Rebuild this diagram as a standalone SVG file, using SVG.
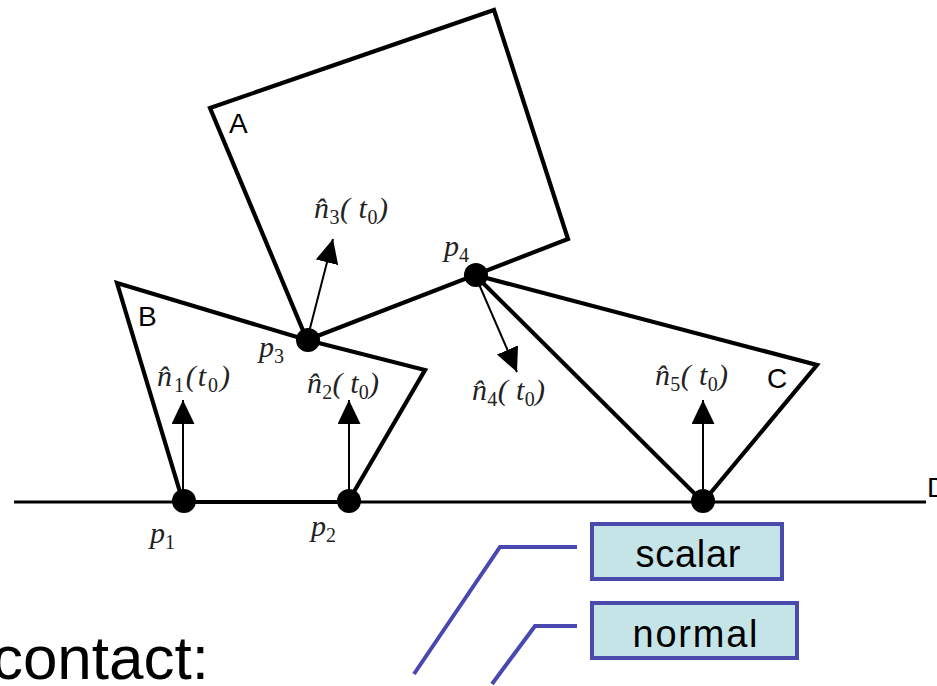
<svg xmlns="http://www.w3.org/2000/svg" width="937" height="686" viewBox="0 0 937 686">
<style>
.body{fill:none;stroke:#000;stroke-width:4.2;stroke-linejoin:miter}
.ground{stroke:#000;stroke-width:3.2}
.dot{fill:#000}
.nrm{stroke:#000;stroke-width:2;marker-end:url(#ah)}
.lbl{font-family:"Liberation Sans",Arial,sans-serif;font-size:28px;fill:#000}
.math{font-family:"Liberation Serif","Times New Roman",serif;font-size:30px;font-style:italic;fill:#222}
.sub{font-size:20px;font-style:normal}
.box{fill:#c5e4e8;stroke:#4a4aac;stroke-width:4}
.btxt{font-family:"Liberation Sans",Arial,sans-serif;font-size:38px;fill:#000;text-anchor:middle}
.call{fill:none;stroke:#4848b0;stroke-width:4}
.big{font-family:"Liberation Sans",Arial,sans-serif;font-size:62px;fill:#000}
</style>
<defs>
<marker id="ah" markerUnits="userSpaceOnUse" markerWidth="25" markerHeight="24" refX="24" refY="11.5" orient="auto" viewBox="0 0 25 24">
<path d="M0,0 L24,11.5 L0,23 Z" fill="#000"/>
</marker>
</defs>
<rect width="937" height="686" fill="#fff"/>
<g id="ground-D">
<line class="ground" x1="14" y1="502" x2="926" y2="502"/>
<text class="lbl" x="927" y="497">D</text>
</g>
<g id="body-A">
<polygon class="body" points="210,108 494,10 568,239 307,340"/>
<text class="lbl" x="229" y="133">A</text>
</g>
<g id="body-B">
<polygon class="body" points="117,283 307,340 425,370 348,502 183,502"/>
<text class="lbl" x="138" y="326">B</text>
</g>
<g id="body-C">
<polygon class="body" points="475,275 817,365 703,502"/>
<text class="lbl" x="767" y="388">C</text>
</g>
<g id="connectors">
<line class="nrm" x1="183" y1="500" x2="183" y2="400"/>
<line class="nrm" x1="349" y1="500" x2="349" y2="400"/>
<line class="nrm" x1="307" y1="340" x2="333" y2="239"/>
<line class="nrm" x1="475" y1="275" x2="517" y2="372"/>
<line class="nrm" x1="703" y1="500" x2="703" y2="400"/>
<polyline class="call" points="414,674 500,547 577,547"/>
<polyline class="call" points="492,684 535,626 577,626"/>
</g>
<g id="p1">
<circle class="dot" cx="184" cy="501" r="12"/>
<text class="math" x="150" y="543">p<tspan class="sub" dy="6">1</tspan></text>
</g>
<g id="p2">
<circle class="dot" cx="349" cy="501" r="12"/>
<text class="math" x="311" y="536">p<tspan class="sub" dy="6">2</tspan></text>
</g>
<g id="p3">
<circle class="dot" cx="308" cy="340" r="12"/>
<text class="math" x="259" y="357">p<tspan class="sub" dy="6">3</tspan></text>
</g>
<g id="p4">
<circle class="dot" cx="476" cy="275" r="12"/>
<text class="math" x="444" y="256">p<tspan class="sub" dy="6">4</tspan></text>
</g>
<g id="p5">
<circle class="dot" cx="703" cy="501" r="12"/>
</g>
<g id="n1">
<text class="math" x="157" y="386" textLength="73" lengthAdjust="spacing">n̂<tspan class="sub" dy="6">1</tspan><tspan dy="-6">(t</tspan><tspan class="sub" dy="6">0</tspan><tspan dy="-6">)</tspan></text>
</g>
<g id="n2">
<text class="math" x="307" y="393" textLength="72" lengthAdjust="spacing">n̂<tspan class="sub" dy="6">2</tspan><tspan dy="-6">( t</tspan><tspan class="sub" dy="6">0</tspan><tspan dy="-6">)</tspan></text>
</g>
<g id="n3">
<text class="math" x="314" y="218" textLength="74" lengthAdjust="spacing">n̂<tspan class="sub" dy="6">3</tspan><tspan dy="-6">( t</tspan><tspan class="sub" dy="6">0</tspan><tspan dy="-6">)</tspan></text>
</g>
<g id="n4">
<text class="math" x="472" y="400" textLength="73" lengthAdjust="spacing">n̂<tspan class="sub" dy="6">4</tspan><tspan dy="-6">( t</tspan><tspan class="sub" dy="6">0</tspan><tspan dy="-6">)</tspan></text>
</g>
<g id="n5">
<text class="math" x="655" y="385" textLength="73" lengthAdjust="spacing">n̂<tspan class="sub" dy="6">5</tspan><tspan dy="-6">( t</tspan><tspan class="sub" dy="6">0</tspan><tspan dy="-6">)</tspan></text>
</g>
<g id="scalar">
<rect class="box" x="592" y="524" width="190" height="55"/>
<text class="btxt" x="688" y="567" textLength="105" lengthAdjust="spacing">scalar</text>
</g>
<g id="normal">
<rect class="box" x="592" y="603" width="205" height="55"/>
<text class="btxt" x="695" y="647" textLength="125" lengthAdjust="spacing">normal</text>
</g>
<g id="contact">
<text class="big" x="209" y="679" text-anchor="end">contact:</text>
</g>
</svg>
